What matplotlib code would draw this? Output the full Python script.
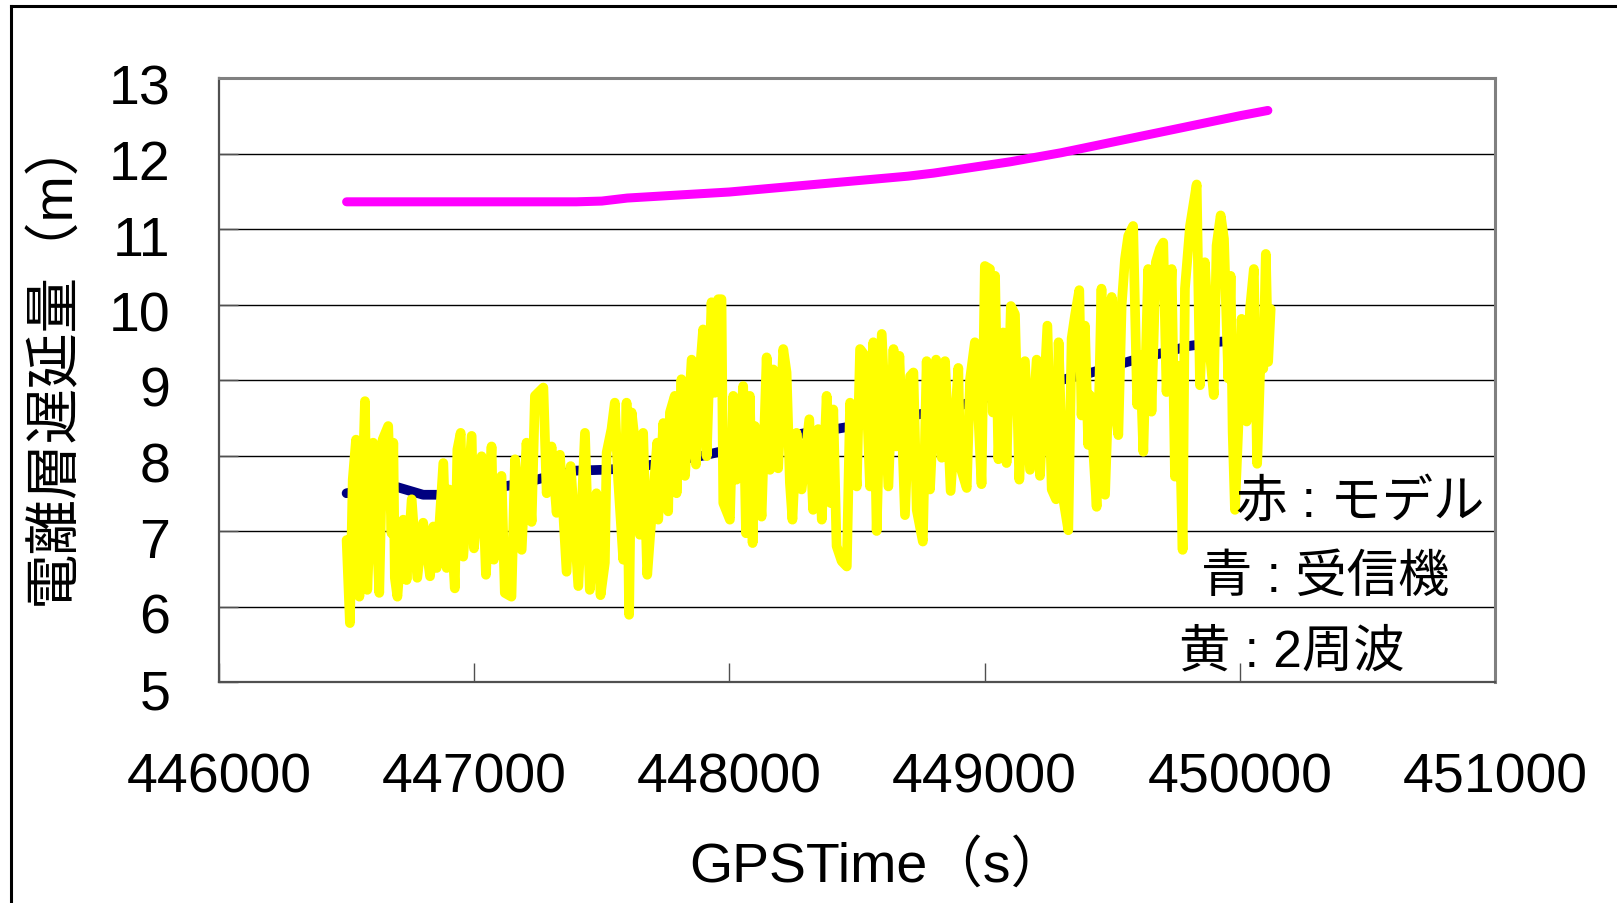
import matplotlib
matplotlib.use("Agg")
import matplotlib.pyplot as plt
from matplotlib.lines import Line2D
from matplotlib.transforms import ScaledTranslation

plt.rcParams['font.family'] = ['Liberation Sans', 'Noto Sans CJK JP', 'DejaVu Sans']

# model (red label, drawn magenta)
model_t = [446500, 446600, 446700, 446800, 446900, 447000, 447100, 447200, 447300,
           447400, 447500, 447600, 447700, 447800, 447900, 448000, 448100, 448200,
           448300, 448400, 448500, 448600, 448700, 448800, 448900, 449000, 449100,
           449200, 449300, 449400, 449500, 449600, 449700, 449800, 449900, 450000,
           450110]
model_v = [11.36, 11.36, 11.36, 11.36, 11.36, 11.36, 11.36, 11.36, 11.36,
           11.36, 11.37, 11.41, 11.43, 11.45, 11.47, 11.49, 11.52, 11.55,
           11.58, 11.61, 11.64, 11.67, 11.70, 11.74, 11.79, 11.84, 11.89,
           11.95, 12.01, 12.08, 12.15, 12.22, 12.29, 12.36, 12.43, 12.50,
           12.57]

# receiver (blue)
recv_t = [446500, 446600, 446700, 446800, 446900, 447000, 447100, 447200, 447300,
          447400, 447500, 447600, 447700, 447800, 447900, 448000, 448100, 448200,
          448300, 448400, 448500, 448600, 448700, 448800, 448900, 449000, 449100,
          449200, 449300, 449400, 449500, 449600, 449700, 449800, 449900, 450000,
          450100]
recv_v = [7.50, 7.57, 7.58, 7.48, 7.48, 7.53, 7.58, 7.64, 7.73,
          7.80, 7.81, 7.83, 7.88, 7.94, 8.00, 8.08, 8.16, 8.23,
          8.30, 8.34, 8.40, 8.46, 8.52, 8.58, 8.66, 8.76, 8.84,
          8.93, 9.00, 9.08, 9.18, 9.28, 9.36, 9.45, 9.50, 9.53,
          9.56]

# dual frequency (yellow)
dual_t = [446500, 446513, 446524, 446537, 446550, 446572, 446581, 446604, 446628, 446641,
          446663, 446676, 446683, 446689, 446699, 446722, 446735, 446755, 446777, 446800,
          446827, 446840, 446853, 446879, 446892, 446902, 446924, 446934, 446947, 446957,
          446990, 446999, 447029, 447046, 447068, 447077, 447107, 447120, 447146, 447160,
          447186, 447205, 447225, 447238, 447271, 447284, 447303, 447323, 447336, 447362,
          447378, 447408,
          447434, 447453, 447479, 447495, 447512, 447519, 447538, 447551, 447564, 447584,
          447597, 447607, 447617, 447630, 447649, 447662, 447678, 447688, 447717, 447721,
          447741, 447760, 447767, 447786, 447793, 447812, 447826, 447852, 447869, 447884,
          447897, 447911, 447930, 447943, 447956, 447969, 447976, 448002, 448015, 448028,
          448054, 448065, 448080, 448091, 448100, 448126, 448146, 448159, 448172, 448191,
          448211, 448224, 448237, 448247, 448263, 448283, 448313, 448328, 448348,
          448362, 448381, 448397, 448407, 448420, 448440, 448460, 448473, 448499, 448512,
          448532, 448551, 448564, 448577, 448597, 448623, 448643, 448653, 448666, 448688,
          448708, 448721, 448734, 448758, 448773, 448786, 448810, 448832, 448845, 448867,
          448897, 448904, 448930, 448943, 448962, 448988, 449001, 449021, 449032, 449041,
          449054, 449073, 449086, 449103, 449119, 449136, 449158, 449178, 449204, 449217,
          449246, 449263, 449280, 449290,
          449308, 449328, 449341, 449354, 449371, 449380, 449393, 449406, 449413, 449439,
          449458, 449472, 449498, 449507, 449524, 449537, 449550, 449563, 449582, 449598,
          449609, 449622, 449641, 449654, 449671, 449687, 449700, 449713, 449733, 449746,
          449759, 449776, 449785, 449805, 449831, 449844, 449863, 449880, 449898, 449909,
          449925, 449938, 449955, 449964, 449972, 449981, 449994, 450007, 450027, 450040,
          450055, 450068, 450081, 450092, 450102, 450111, 450121]
dual_v = [6.88, 5.78, 7.68, 8.21, 6.13, 8.72, 6.22, 8.17, 6.18, 8.21,
          8.39, 6.97, 8.17, 6.38, 6.13, 7.15, 6.35, 7.42, 6.38, 7.11,
          6.40, 7.06, 6.51, 7.90, 6.51, 7.55, 6.24, 8.08, 8.30, 6.66,
          8.26, 6.77, 7.99, 6.42, 8.12, 6.62, 7.73, 6.18, 6.13, 7.95,
          6.75, 8.17, 7.12, 8.79, 8.90, 7.50, 8.12, 7.24, 8.01, 6.46,
          7.86, 6.27,
          8.30, 6.22, 7.50, 6.15, 6.58, 8.04, 8.35, 8.70, 7.68, 6.62,
          8.70, 5.89, 8.57, 8.17, 6.95, 8.30, 6.42, 6.88, 8.17, 7.15,
          8.43, 7.26, 8.57, 8.79, 7.50, 9.01, 7.73, 9.27, 7.88, 9.10,
          9.67, 7.99, 10.03, 8.83, 10.07, 10.07, 7.37, 7.15, 8.79, 7.68,
          8.92, 6.97, 8.79, 6.84, 8.39, 7.19, 9.30, 7.81, 9.14, 7.83,
          9.41, 9.10, 7.64, 7.15, 8.30, 7.55, 8.48, 7.28, 8.35,
          7.15, 8.79, 7.37, 8.61, 6.80, 6.60, 6.53, 8.70, 7.59, 9.41,
          9.32, 7.59, 9.50, 7.00, 9.61, 7.59, 9.41, 8.12, 9.32, 7.21,
          9.05, 9.10, 7.28, 6.86, 9.25, 7.55, 9.27, 7.97, 9.25, 7.53,
          9.16, 7.86, 7.57, 9.01, 9.50, 7.62, 10.51, 10.47, 8.57, 10.38,
          7.95, 9.63, 7.90, 9.98, 9.87, 7.68, 9.25, 7.81, 9.27, 7.73,
          9.72, 7.55, 7.42, 9.50,
          7.43, 7.01, 9.55, 9.85, 10.19, 8.53, 9.72, 8.14, 8.80, 7.32,
          10.21, 7.48, 10.10, 8.75, 8.27, 9.99, 10.60, 10.91, 11.04, 8.67,
          9.33, 8.05, 10.47, 8.58, 10.56, 10.74, 10.82, 8.84, 10.47, 7.72,
          9.19, 6.75, 10.21, 11.04, 11.59, 8.93, 10.56, 9.46, 8.80, 10.78,
          11.18, 10.87, 9.02, 10.38, 8.31, 7.28, 8.36, 9.81, 8.45, 9.94,
          10.47, 7.89, 9.28, 9.15, 10.67, 9.24, 9.94]

xticks = [446000, 447000, 448000, 449000, 450000, 451000]
yticks = [5, 6, 7, 8, 9, 10, 11, 12, 13]

W, H = 1617, 904
fig = plt.figure(figsize=(W / 100, H / 100), dpi=100)
ax = fig.add_axes([219 / W, 1 - 683 / H, (1495 - 219) / W, (683 - 79) / H])

ax.plot(model_t, model_v, color='#FF00FF', lw=6.5, solid_capstyle='round', solid_joinstyle='round')
ax.plot(recv_t, recv_v, color='#000080', lw=7, solid_capstyle='round', solid_joinstyle='round')
ax.plot(dual_t, dual_v, color='#FFFF00', lw=7, solid_capstyle='round', solid_joinstyle='round')

ax.set_xlim(446000, 451000)
ax.set_ylim(5, 13)
ax.set_xticks(xticks)
ax.set_yticks(yticks)
ax.set_xticklabels([str(v) for v in xticks])
ax.set_yticklabels([str(v) for v in yticks])
ax.yaxis.grid(True, color='black', lw=1.0)
ax.set_axisbelow(True)
for side in ['top', 'right']:
    ax.spines[side].set_color('#808080')
    ax.spines[side].set_linewidth(2.2)
for side in ['left', 'bottom']:
    ax.spines[side].set_color('#505050')
    ax.spines[side].set_linewidth(1.6)
ax.tick_params(axis='both', direction='in', length=14, width=1, color='#505050',
               labelsize=40)
ax.tick_params(axis='y', pad=35)
ax.tick_params(axis='x', pad=50)
# y labels sit a bit below their gridlines in the original
shift = ScaledTranslation(0, -6 / 100, fig.dpi_scale_trans)
for lab in ax.get_yticklabels():
    lab.set_transform(lab.get_transform() + shift)

fig.text(54 / W, 1 - 360 / H, '電離層遅延量（m）', rotation=90, ha='center', va='center',
         fontsize=40)
fig.text(878 / W, 1 - 882 / H, 'GPSTime（s）', ha='center', va='baseline', fontsize=40)

fig.text(1236 / W, 1 - 503 / H, '赤 : モデル', ha='left', va='center', fontsize=37)
fig.text(1201 / W, 1 - 578 / H, '青 : 受信機', ha='left', va='center', fontsize=37)
fig.text(1179 / W, 1 - 653 / H, '黄 : 2周波', ha='left', va='center', fontsize=37)

# outer frame (left and top edges visible)
fig.add_artist(Line2D([10.5 / W, 10.5 / W], [0, 1 - 7 / H], color='black', lw=2.2,
                      transform=fig.transFigure))
fig.add_artist(Line2D([10.5 / W, 1], [1 - 7 / H, 1 - 7 / H], color='black', lw=2.2,
                      transform=fig.transFigure))

fig.savefig('out.png', dpi=100)
